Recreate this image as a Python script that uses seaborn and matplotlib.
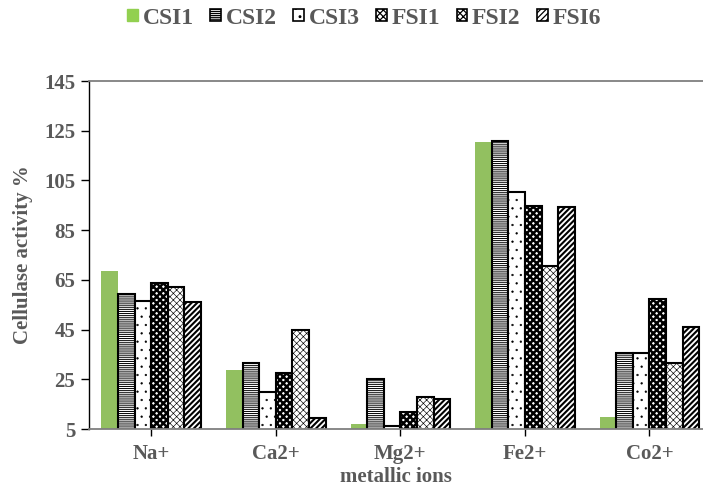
import seaborn as sns
import matplotlib.pyplot as plt
from matplotlib.patches import Patch
import pandas as pd

ions = ['Na+', 'Ca2+', 'Mg2+', 'Fe2+', 'Co2+']
strains = ['CSI1', 'CSI2', 'CSI3', 'FSI1', 'FSI2', 'FSI6']

csi1 = [68.6, 28.6, 6.9, 120.4, 9.7]
csi2 = [59.3, 31.5, 25.1, 121.0, 35.7]
csi3 = [56.6, 20.0, 6.3, 100.2, 35.7]
fsi1 = [63.7, 27.6, 11.8, 94.6, 57.3]
fsi2 = [62.1, 44.7, 18.0, 70.6, 31.5]
fsi6 = [56.0, 9.4, 16.9, 94.3, 46.2]

values = [csi1, csi2, csi3, fsi1, fsi2, fsi6]
rows = []
for s, vals in zip(strains, values):
    for ion, v in zip(ions, vals):
        rows.append({'ion': ion, 'strain': s, 'activity': v})
df = pd.DataFrame(rows)

green = '#92D050'
txt = '#595959'
palette = {s: 'white' for s in strains}
palette['CSI1'] = green
hatches = {'CSI1': '', 'CSI2': '-' * 8, 'CSI3': '..', 'FSI1': 'X' * 5,
           'FSI2': 'x' * 5, 'FSI6': '/' * 6}
hatch_lw = {'CSI1': 0.5, 'CSI2': 0.7, 'CSI3': 0.4, 'FSI1': 1.8, 'FSI2': 0.45, 'FSI6': 1.5}

sns.set_style('white')
plt.rcParams['font.family'] = ['Liberation Serif', 'DejaVu Serif']
plt.rcParams['font.weight'] = 'bold'
plt.rcParams['hatch.linewidth'] = 0.9

fig = plt.figure(figsize=(7.03, 4.88), dpi=100)
ax = fig.add_axes([0.1266, 0.1209, 0.8734, 0.7131])

sns.barplot(data=df, x='ion', y='activity', hue='strain', order=ions, hue_order=strains,
            palette=palette, width=0.8, gap=0, legend=False, ax=ax)

n = len(ions)
for i, s in enumerate(strains):
    for bar in ax.patches[i * n:(i + 1) * n]:
        bar.set_hatch(hatches[s])
        if hasattr(bar, 'set_hatch_linewidth'):
            bar.set_hatch_linewidth(hatch_lw[s])
        if s == 'CSI1':
            bar.set_edgecolor(green)
            bar.set_linewidth(0)
        else:
            bar.set_edgecolor('black')
            bar.set_linewidth(1.5)

ax.set_ylim(5, 145)
ax.set_yticks(range(5, 146, 20))
ax.set_xlim(-0.5, 4.43)

for side in ['top', 'bottom']:
    ax.spines[side].set_color('#7f7f7f')
    ax.spines[side].set_linewidth(1.3)
ax.spines['left'].set_color('black')
ax.spines['left'].set_linewidth(1.0)
ax.spines['right'].set_visible(False)

ax.tick_params(axis='y', length=6, width=1, color='black', labelsize=15, labelcolor=txt, pad=4, left=True)
ax.tick_params(axis='x', length=5, width=1, color='black', labelsize=15, labelcolor=txt, pad=6, bottom=True)
for lab in ax.get_xticklabels() + ax.get_yticklabels():
    lab.set_fontweight('bold')

ax.set_ylabel('Cellulase activity %', fontsize=15, color=txt, fontweight='bold', labelpad=8)
ax.set_xlabel('metallic ions', fontsize=15, color=txt, fontweight='bold', labelpad=2)

handles = []
for s in strains:
    if s == 'CSI1':
        handles.append(Patch(facecolor=green, edgecolor=green, label=s))
    else:
        p = Patch(facecolor='white', edgecolor='black', hatch=hatches[s], linewidth=1.2, label=s)
        if hasattr(p, 'set_hatch_linewidth'):
            p.set_hatch_linewidth(hatch_lw[s])
        handles.append(p)
leg = fig.legend(handles=handles, loc='center', bbox_to_anchor=(0.518, 0.963), ncol=6, frameon=False,
                 handlelength=0.45, handleheight=0.45, handletextpad=0.2, columnspacing=0.7,
                 prop={'size': 17, 'weight': 'bold'})
for t in leg.get_texts():
    t.set_color(txt)

fig.savefig('out.png', dpi=100)
